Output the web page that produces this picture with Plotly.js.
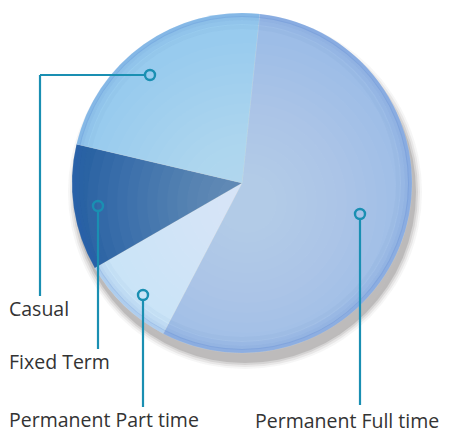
<!DOCTYPE html>
<html>
<head>
<meta charset="utf-8">
<script src="https://cdn.plot.ly/plotly-3.0.1.min.js"></script>
<style>html,body{margin:0;padding:0;background:#fff;}#chart{width:449px;height:434px;}</style>
</head>
<body>
<div id="chart"></div>
<script>
// Data
const categories = ["Permanent Full time", "Permanent Part time", "Fixed Term", "Casual"];
const values = [56, 9, 12, 23];
const sliceColors = ["#9dbde7", "#c8e4f7", "#2a63a3", "#98cbee"];

const W = 449, H = 434;
const px = x => x / W;
const py = y => 1 - y / H;
const teal = "#1a8fb2";

// Leader lines (pixel positions of label connectors)
const leaders = [
  {pts: [[150, 75], [40, 75], [40, 296]], label: "Casual", lx: 8, ly: 308},
  {pts: [[98, 206], [98, 349]], label: "Fixed Term", lx: 8, ly: 361},
  {pts: [[143, 295], [143, 407]], label: "Permanent Part time", lx: 8, ly: 419},
  {pts: [[360, 214], [360, 405]], label: "Permanent Full time", lx: 254, ly: 420}
];

const cx = 242, cy = 183, r = 170;
const shapes = [];
// soft shadow (offset downward)
[[7, 0.05], [5, 0.08], [3, 0.12], [1, 0.18]].forEach(([g, op]) => {
  shapes.push({type: "circle", xref: "paper", yref: "paper", layer: "below",
    x0: px(cx - r - g + 3), x1: px(cx + r + g + 3), y0: py(cy + r + g + 9), y1: py(cy - r - g + 9),
    fillcolor: "rgba(80,70,70," + op + ")", line: {width: 0}});
});
// highlight overlay (smooth-ish lightening toward centre)
for (let i = 0; i < 14; i++) {
  const rr = 160 - i * 10;
  shapes.push({type: "circle", xref: "paper", yref: "paper", layer: "above",
    x0: px(cx + 5 - rr), x1: px(cx + 5 + rr), y0: py(cy + 20 + rr), y1: py(cy + 20 - rr),
    fillcolor: "rgba(255,255,255,0.022)", line: {width: 0}});
}
// edge darkening
[[2, 0.16], [5, 0.10], [9, 0.06], [14, 0.04]].forEach(([d, op]) => {
  shapes.push({type: "circle", xref: "paper", yref: "paper", layer: "above",
    x0: px(cx - r + d), x1: px(cx + r - d), y0: py(cy + r - d), y1: py(cy - r + d),
    fillcolor: "rgba(0,0,0,0)", line: {color: "rgba(40,90,190," + op + ")", width: 4}});
});
const annotations = [];
leaders.forEach(l => {
  for (let i = 0; i < l.pts.length - 1; i++) {
    let [x0, y0] = l.pts[i], [x1, y1] = l.pts[i + 1];
    if (i === 0) {
      if (x1 === x0) y0 += (y1 > y0 ? 5 : -5); else x0 += (x1 > x0 ? 5 : -5);
    }
    shapes.push({type: "line", xref: "paper", yref: "paper", x0: px(x0), y0: py(y0), x1: px(x1), y1: py(y1),
      line: {color: teal, width: 2.2}, layer: "above"});
  }
  const [cxp, cyp] = l.pts[0];
  shapes.push({type: "circle", xref: "paper", yref: "paper", x0: px(cxp - 5), x1: px(cxp + 5), y0: py(cyp + 5), y1: py(cyp - 5),
    line: {color: teal, width: 2.4}, fillcolor: "rgba(0,0,0,0)", layer: "above"});
  annotations.push({text: l.label, xref: "paper", yref: "paper", x: px(l.lx), y: py(l.ly), xanchor: "left", yanchor: "middle",
    borderpad: 0, showarrow: false, font: {family: "Open Sans, Noto Sans, sans-serif", size: 19.5, color: "#333"}});
});

const trace = {
  type: "pie",
  labels: categories,
  values: values,
  sort: false,
  direction: "clockwise",
  rotation: 6,
  textinfo: "none",
  hoverinfo: "label+percent",
  marker: {colors: sliceColors, line: {color: "rgba(255,255,255,0.2)", width: 0.5}},
  domain: {x: [px(cx - r), px(cx + r)], y: [py(cy + r), py(cy - r)]},
  showlegend: false
};

Plotly.newPlot("chart", [trace], {
  width: W, height: H,
  margin: {l: 0, r: 0, t: 0, b: 0},
  paper_bgcolor: "#fff",
  showlegend: false,
  shapes: shapes,
  annotations: annotations
}, {displayModeBar: false, staticPlot: true});
</script>
</body>
</html>
